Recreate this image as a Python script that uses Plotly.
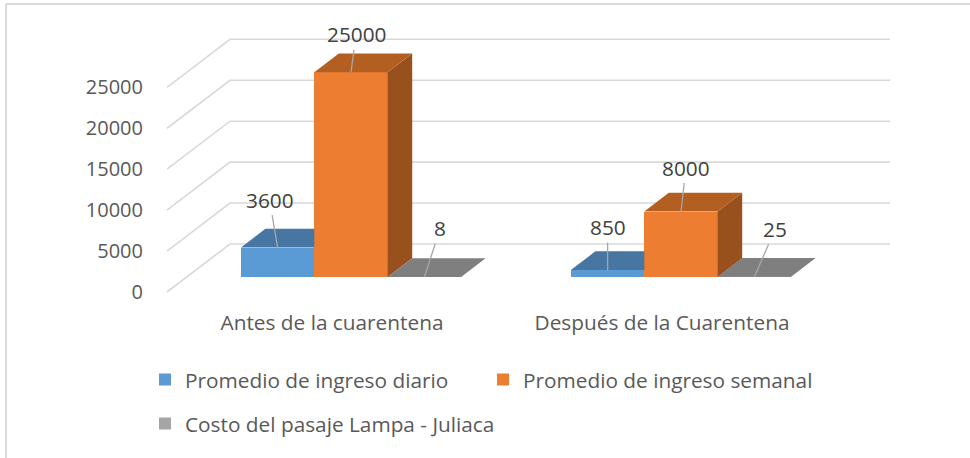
import plotly.graph_objects as go

# ---------- data ----------
categories = ["Antes de la cuarentena", "Después de la Cuarentena"]
series_names = ["Promedio de ingreso diario", "Promedio de ingreso semanal", "Costo del pasaje Lampa - Juliaca"]
diario = [3600, 850]
semanal = [25000, 8000]
pasaje = [8, 25]
y_ticks = [0, 5000, 10000, 15000, 20000, 25000]

# ---------- style / geometry ----------
FONT = "Open Sans"
W, H = 970, 458
PLOT_L, PLOT_B = 144, 308
Y0_PX = 292
PX_PER_UNIT = 204.7 / 25000
CAT_PX = 330
CAT0_PX = 351


def xpx(p):
    return (p - CAT0_PX) / CAT_PX


def ulen(px):
    return px / PX_PER_UNIT


BAR_W = 73.4 / CAT_PX
FLOOR_SHIFT = ulen(15)
DEPTH_X, DEPTH_Y = 24.5 / CAT_PX, ulen(18.7)
WALL_X0, WALL_X1, WALL_X2 = xpx(167), xpx(230), xpx(890)
WALL_Y = ulen(48)
GRID = "#D9D9D9"
front = ["#5B9BD5", "#ED7D31", "#A5A5A5"]
top = ["#4676A1", "#B45F22", "#7F7F7F"]
side = ["#3F6A91", "#98501C", "#6E6E6E"]
values = [diario, semanal, pasaje]

fig = go.Figure()

# walls live on the base axes so they stay behind the bars
for t in y_ticks:
    fig.add_trace(go.Scatter(
        x=[WALL_X0, WALL_X1, WALL_X2], y=[t, t + WALL_Y, t + WALL_Y],
        mode="lines", line=dict(color=GRID, width=1.6),
        showlegend=False, hoverinfo="skip", xaxis="x", yaxis="y"))

# front faces
legends = ["legend", "legend2", "legend3"]
for k, vals in enumerate(values):
    xs = [i + (k - 1) * BAR_W for i in range(len(categories))]
    fig.add_trace(go.Bar(
        x=xs, y=vals, base=FLOOR_SHIFT, width=BAR_W, name=series_names[k],
        marker=dict(color=front[k], line=dict(width=0)), legend=legends[k],
        xaxis="x2", yaxis="y2"))

# tops and sides
for k, vals in enumerate(values):
    for i, v in enumerate(vals):
        cx = i + (k - 1) * BAR_W
        xl, xr = cx - BAR_W / 2, cx + BAR_W / 2
        y1 = v + FLOOR_SHIFT
        # hidden-surface clipping against the taller neighbouring bar
        nxt = values[k + 1][i] if k < 2 else None
        clip = nxt is not None and nxt > v
        if clip:
            tx = [xl, xl + DEPTH_X, xr, xr, xl]
            ty = [y1, y1 + DEPTH_Y, y1 + DEPTH_Y, y1, y1]
        else:
            tx = [xl, xl + DEPTH_X, xr + DEPTH_X, xr, xl]
            ty = [y1, y1 + DEPTH_Y, y1 + DEPTH_Y, y1, y1]
            if v > 100:
                fig.add_trace(go.Scatter(
                    x=[xr, xr + DEPTH_X, xr + DEPTH_X, xr, xr],
                    y=[FLOOR_SHIFT, FLOOR_SHIFT + DEPTH_Y, y1 + DEPTH_Y, y1, FLOOR_SHIFT],
                    mode="lines", line=dict(width=0), fill="toself", fillcolor=side[k],
                    showlegend=False, hoverinfo="skip", xaxis="x2", yaxis="y2"))
        fig.add_trace(go.Scatter(
            x=tx, y=ty, mode="lines", line=dict(width=0), fill="toself",
            fillcolor=top[k], showlegend=False, hoverinfo="skip", xaxis="x2", yaxis="y2"))

# data labels with leader lines (text offsets in px from bar-top centre)
label_offsets = [[(-8, -48), (5, -38), (16, -49)], [(0, -43), (5, -44), (21, -48)]]
for i in range(len(categories)):
    for k, vals in enumerate(values):
        ox, oy = label_offsets[i][k]
        fig.add_annotation(
            x=i + (k - 1) * BAR_W, y=vals[i] + FLOOR_SHIFT, text=str(vals[i]),
            xref="x2", yref="y2",
            showarrow=True, arrowhead=0, arrowwidth=1.3, arrowcolor="#A6A6A6",
            ax=ox, ay=oy, font=dict(family=FONT, size=20.8, color="#404040"))

# frame
fx = (6 - PLOT_L) / (W - PLOT_L)
fy = (PLOT_B - 4) / PLOT_B
fig.add_shape(type="line", xref="paper", yref="paper", x0=fx, x1=1, y0=fy, y1=fy, line=dict(color=GRID, width=2))
fig.add_shape(type="line", xref="paper", yref="paper", x0=fx, x1=fx, y0=(PLOT_B - H) / PLOT_B, y1=fy,
              line=dict(color=GRID, width=2))


def legend_at(px, py):
    return dict(x=(px - PLOT_L) / (W - PLOT_L), y=(PLOT_B - py) / PLOT_B, xanchor="left", yanchor="middle",
                font=dict(family=FONT, size=20.8, color="#595959"), bgcolor="rgba(0,0,0,0)",
                itemwidth=30, borderwidth=0, indentation=-6)


x_range = [xpx(PLOT_L), xpx(W)]
y_range = [ulen(Y0_PX - PLOT_B), ulen(Y0_PX)]
fig.update_layout(
    width=W, height=H, autosize=False, paper_bgcolor="white", plot_bgcolor="white",
    margin=dict(l=PLOT_L, r=0, t=0, b=H - PLOT_B, pad=0, autoexpand=False),
    bargap=0, showlegend=True,
    legend=legend_at(151, 380), legend2=legend_at(489, 380), legend3=legend_at(151, 424),
    xaxis=dict(range=x_range, tickmode="array", tickvals=[xpx(332), xpx(662)], ticktext=categories,
               showgrid=False, zeroline=False, showline=False, ticks="", ticklen=0,
               tickfont=dict(family=FONT, size=20.8, color="#595959")),
    yaxis=dict(range=y_range, tickmode="array", tickvals=y_ticks,
               ticktext=[str(t) for t in y_ticks], showgrid=False, zeroline=False, showline=False, ticks="",
               tickfont=dict(family=FONT, size=20, color="#595959")),
    xaxis2=dict(range=x_range, overlaying="x", visible=False),
    yaxis2=dict(range=y_range, overlaying="y", visible=False),
)

fig.write_html("out.html", config={"displayModeBar": False},
               post_script="document.body.style.margin='0';document.body.style.overflow='hidden';")
